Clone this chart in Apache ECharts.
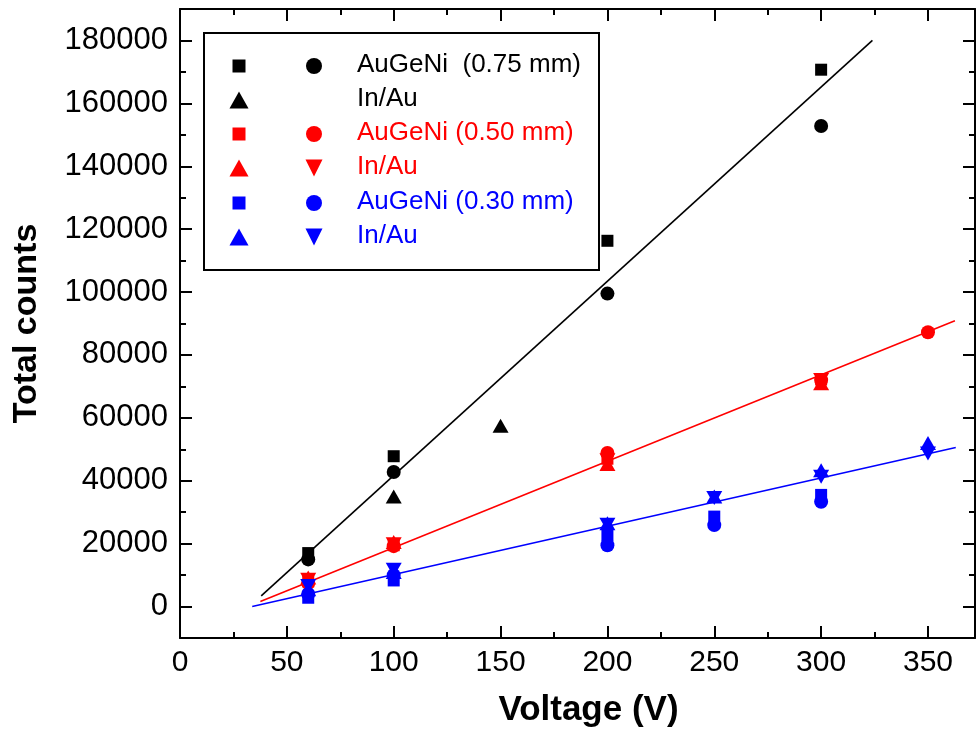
<!DOCTYPE html>
<html>
<head>
<meta charset="utf-8">
<script src="https://cdn.jsdelivr.net/npm/echarts@6/dist/echarts.min.js"></script>
<style>html,body{margin:0;padding:0;background:#fff;}#chart{width:977px;height:741px;}</style>
</head>
<body>
<div id="chart"></div>
<script>
// ---- data ----
const xTicksMajor = [0, 50, 100, 150, 200, 250, 300, 350];
const xTicksMinor = [25, 75, 125, 175, 225, 275, 325];
const yTicksMajor = [0, 20000, 40000, 60000, 80000, 100000, 120000, 140000, 160000, 180000];
const yTicksMinor = [10000, 30000, 50000, 70000, 90000, 110000, 130000, 150000, 170000];

// AuGeNi 0.75 mm (black)
const blackSquare = [[60, 17000], [100, 47800], [200, 116300], [300, 170700]];
const blackCircle = [[60, 15000], [100, 42800], [200, 99500], [300, 152800]];
const blackTriUp = [[100, 35000], [150, 57500]];
const blackFit = [[38, 3400], [324, 180000]];

// AuGeNi 0.50 mm (red)
const redSquare = [[60, 8000], [100, 19500], [200, 47000], [300, 72200]];
const redCircle = [[60, 7500], [100, 19200], [200, 48800], [300, 72000], [350, 87200]];
const redTriUp = [[60, 9200], [100, 20500], [200, 45300], [300, 71000]];
const redTriDown = [[60, 8500], [100, 19800], [200, 46500], [300, 72000]];
const redFit = [[37.6, 1600], [362.6, 90900]];

// AuGeNi 0.30 mm (blue)
const blueSquare = [[60, 2800], [100, 8300], [200, 22500], [250, 28600], [300, 35500]];
const blueCircle = [[60, 4000], [100, 10000], [200, 19500], [250, 25900], [300, 33300]];
const blueTriUp = [[60, 5500], [100, 11000], [200, 26500], [250, 35000], [300, 43300], [350, 52000]];
const blueTriDown = [[60, 6500], [100, 11700], [200, 26000], [250, 34500], [300, 41300], [350, 48700]];
const blueFit = [[33.8, 0], [363, 50600]];

const legendRows = [
  { text: 'AuGeNi  (0.75 mm)', color: '#000000' },
  { text: 'In/Au', color: '#000000' },
  { text: 'AuGeNi (0.50 mm)', color: '#ff0000' },
  { text: 'In/Au', color: '#ff0000' },
  { text: 'AuGeNi (0.30 mm)', color: '#0000ff' },
  { text: 'In/Au', color: '#0000ff' }
];

// ---- styling ----
const FONT = "'Liberation Sans', Arial, sans-serif";
const BLACK = '#000000', RED = '#ff0000', BLUE = '#0000ff';
const TRI_DOWN = 'path://M0,0L2,0L1,2Z';

function scat(name, data, color, symbol, size) {
  return { name, type: 'scatter', data, symbol, symbolSize: size,
    itemStyle: { color, opacity: 1 }, xAxisIndex: 0, yAxisIndex: 0, z: 3,
    emphasis: { disabled: true } };
}
function fit(name, data, color) {
  return { name, type: 'line', data, showSymbol: false, symbol: 'none',
    lineStyle: { color, width: 1.6 }, xAxisIndex: 0, yAxisIndex: 0, z: 2,
    emphasis: { disabled: true } };
}

const SQ = 12, CI = 14, TR = [16, 14];
const series = [
  fit('fit075', blackFit, BLACK),
  fit('fit050', redFit, RED),
  fit('fit030', blueFit, BLUE),
  scat('b_tri', blackTriUp, BLACK, 'triangle', TR),
  scat('b_sq', blackSquare, BLACK, 'rect', SQ),
  scat('b_ci', blackCircle, BLACK, 'circle', CI),
  scat('r_tri', redTriUp, RED, 'triangle', TR),
  scat('r_trd', redTriDown, RED, TRI_DOWN, TR),
  scat('r_sq', redSquare, RED, 'rect', SQ),
  scat('r_ci', redCircle, RED, 'circle', CI),
  scat('u_sq', blueSquare, BLUE, 'rect', SQ),
  scat('u_ci', blueCircle, BLUE, 'circle', CI),
  scat('u_tri', blueTriUp, BLUE, 'triangle', TR),
  scat('u_trd', blueTriDown, BLUE, TRI_DOWN, TR)
];

// legend icon placement (centres)
const col1 = 239, col2 = 314;
const rowY = [66, 100, 134, 168, 203, 237];
const legendItems = [
  ['b_sq', 'rect', col1, 0, 13, 13],
  ['b_ci', 'circle', col2, 0, 16, 16],
  ['b_tri', 'triangle', col1, 1, 19, 17],
  ['r_sq', 'rect', col1, 2, 13, 13],
  ['r_ci', 'circle', col2, 2, 16, 16],
  ['r_tri', 'triangle', col1, 3, 19, 17],
  ['r_trd', TRI_DOWN, col2, 3, 19, 17],
  ['u_sq', 'rect', col1, 4, 13, 13],
  ['u_ci', 'circle', col2, 4, 16, 16],
  ['u_tri', 'triangle', col1, 5, 19, 17],
  ['u_trd', TRI_DOWN, col2, 5, 19, 17]
];
const legends = legendItems.map(([name, icon, cx, r, w, h]) => ({
  data: [{ name, icon }],
  left: cx - w / 2, top: rowY[r] - h / 2,
  itemWidth: w, itemHeight: h, itemGap: 0, padding: 0,
  selectedMode: false, formatter: () => '',
  textStyle: { fontSize: 1 }, z: 20
}));

const legendGraphics = [
  { type: 'rect', left: 203, top: 32, z: 10,
    shape: { width: 395, height: 237 },
    style: { fill: '#ffffff', stroke: '#000000', lineWidth: 2 } }
].concat(legendRows.map((r, i) => ({
  type: 'text', left: 357, top: rowY[i] + 1 - 15, z: 21,
  style: { text: r.text, fill: r.color, font: `26px ${FONT}` }
})));

const tickStyle = { color: BLACK, width: 2 };
function xAx(pos, major, showLabel, showLine) {
  return {
    type: 'value', position: pos, min: 0, max: 372,
    axisLine: { show: showLine, onZero: false, lineStyle: { color: BLACK, width: 2 } },
    axisTick: { show: true, inside: true, length: major ? 12 : 6, lineStyle: tickStyle,
      customValues: major ? xTicksMajor : xTicksMinor },
    axisLabel: showLabel ? { show: true, customValues: xTicksMajor, margin: 10,
      formatter: v => String(v),
      color: BLACK, fontSize: 30, fontFamily: FONT } : { show: false },
    splitLine: { show: false },
    name: showLabel ? 'Voltage (V)' : '',
    nameLocation: 'middle', nameGap: 55,
    nameTextStyle: { fontSize: 35, fontWeight: 'bold', fontFamily: FONT, color: BLACK, padding: [0, 0, 0, 22] }
  };
}
function yAx(pos, major, showLabel, showLine) {
  return {
    type: 'value', position: pos, min: -10000, max: 190000,
    axisLine: { show: showLine, onZero: false, lineStyle: { color: BLACK, width: 2 } },
    axisTick: { show: true, inside: true, length: major ? 12 : 6, lineStyle: tickStyle,
      customValues: major ? yTicksMajor : yTicksMinor },
    axisLabel: showLabel ? { show: true, customValues: yTicksMajor, margin: 12,
      formatter: v => String(v),
      color: BLACK, fontSize: 31, fontFamily: FONT } : { show: false },
    splitLine: { show: false },
    name: showLabel ? 'Total counts' : '',
    nameLocation: 'middle', nameGap: 136, nameRotate: 90,
    nameTextStyle: { fontSize: 34, fontWeight: 'bold', fontFamily: FONT, color: BLACK }
  };
}

const option = {
  animation: false,
  backgroundColor: '#ffffff',
  grid: { left: 180, right: 2, top: 9, bottom: 103, containLabel: false },
  xAxis: [xAx('bottom', true, true, true), xAx('bottom', false, false, false),
          xAx('top', true, false, true), xAx('top', false, false, false)],
  yAxis: [yAx('left', true, true, true), yAx('left', false, false, false),
          yAx('right', true, false, true), yAx('right', false, false, false)],
  legend: legends,
  graphic: legendGraphics,
  series
};

const chart = echarts.init(document.getElementById('chart'), null, { renderer: 'canvas' });
chart.setOption(option);
</script>
</body>
</html>
